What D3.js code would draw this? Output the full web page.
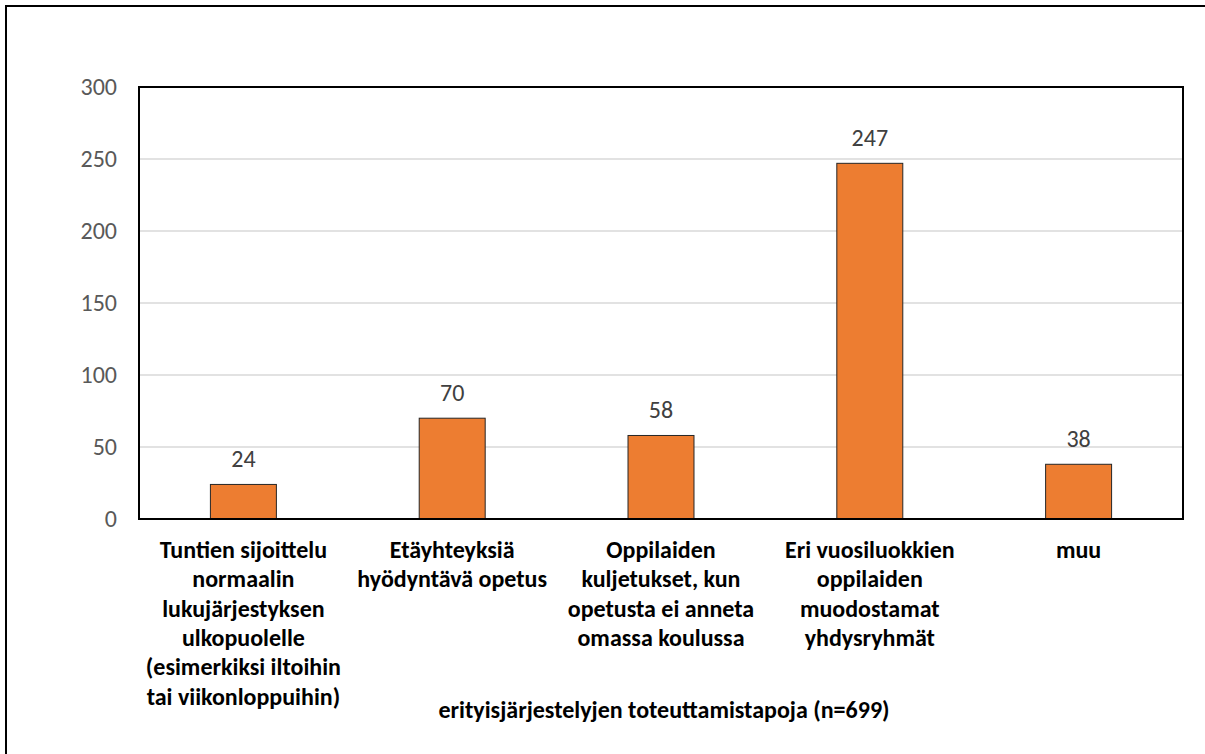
<!DOCTYPE html>
<html>
<head>
<meta charset="utf-8">
<script src="https://cdn.jsdelivr.net/npm/d3@7"></script>
<style>
  html, body { margin: 0; padding: 0; background: #fff; }
  svg { display: block; }
  text { font-family: Carlito, Lato, "Liberation Sans", sans-serif; }
</style>
</head>
<body>
<svg id="chart" width="1205" height="754"></svg>
<script>
const categories = [
  "Tuntien sijoittelu\nnormaalin\nlukujärjestyksen\nulkopuolelle\n(esimerkiksi iltoihin\ntai viikonloppuihin)",
  "Etäyhteyksiä\nhyödyntävä opetus",
  "Oppilaiden\nkuljetukset, kun\nopetusta ei anneta\nomassa koulussa",
  "Eri vuosiluokkien\noppilaiden\nmuodostamat\nyhdysryhmät",
  "muu"
];
const values = [24, 70, 58, 247, 38];
const yTicks = [0, 50, 100, 150, 200, 250, 300];
const axisTitle = "erityisjärjestelyjen toteuttamistapoja (n=699)";

const svg = d3.select("#chart");
const W = 1205, H = 754;
const plot = { left: 139, right: 1183, top: 87, bottom: 519 };

// outer frame (clipped at right/bottom like the reference)
svg.append("rect")
  .attr("x", 6).attr("y", 6)
  .attr("width", W + 10).attr("height", H + 10)
  .attr("fill", "#fff").attr("stroke", "#000").attr("stroke-width", 2);

const x = d3.scaleBand()
  .domain(d3.range(categories.length))
  .range([plot.left, plot.right])
  .paddingInner(0.684)
  .paddingOuter(0.342);

const y = d3.scaleLinear().domain([0, 300]).range([plot.bottom, plot.top]);

// gridlines
svg.append("g")
  .selectAll("line")
  .data(yTicks.filter(t => t > 0 && t < 300))
  .join("line")
  .attr("x1", plot.left).attr("x2", plot.right)
  .attr("y1", d => y(d)).attr("y2", d => y(d))
  .attr("stroke", "#d9d9d9").attr("stroke-width", 1.5);

// y axis labels
const yAxis = d3.axisLeft(y).tickValues(yTicks).tickSize(0).tickPadding(22);
const gy = svg.append("g").attr("transform", `translate(${plot.left},0)`).call(yAxis);
gy.select(".domain").remove();
gy.selectAll("text")
  .attr("fill", "#595959")
  .style("font-size", "24px")
  .style("font-family", "Carlito, Lato, sans-serif");

// bars
svg.append("g")
  .selectAll("rect")
  .data(values)
  .join("rect")
  .attr("x", (d, i) => x(i))
  .attr("y", d => y(d))
  .attr("width", x.bandwidth())
  .attr("height", d => y(0) - y(d))
  .attr("fill", "#ED7D31")
  .attr("stroke", "#262626")
  .attr("stroke-width", 1);

// value labels
svg.append("g")
  .selectAll("text")
  .data(values)
  .join("text")
  .attr("x", (d, i) => x(i) + x.bandwidth() / 2)
  .attr("y", d => y(d) - 17)
  .attr("text-anchor", "middle")
  .attr("fill", "#404040")
  .style("font-size", "24px")
  .text(d => d);

// plot border (left, top, right) and baseline
svg.append("path")
  .attr("d", `M${plot.left},${plot.bottom}V${plot.top}H${plot.right}V${plot.bottom}`)
  .attr("fill", "none").attr("stroke", "#000").attr("stroke-width", 2);
svg.append("line")
  .attr("x1", plot.left - 1).attr("x2", plot.right + 1)
  .attr("y1", y(0)).attr("y2", y(0))
  .attr("stroke", "#000").attr("stroke-width", 2);

// category labels
const catG = svg.append("g");
categories.forEach((c, i) => {
  const cx = x(i) + x.bandwidth() / 2;
  const t = catG.append("text")
    .attr("x", cx)
    .attr("y", 558)
    .attr("text-anchor", "middle")
    .attr("fill", "#000")
    .style("font-size", "24px")
    .style("font-weight", "bold");
  c.split("\n").forEach((line, j) => {
    t.append("tspan")
      .attr("x", cx)
      .attr("dy", j === 0 ? 0 : 29.3)
      .text(line);
  });
});

// axis title
svg.append("text")
  .attr("x", (plot.left + plot.right) / 2 + 3)
  .attr("y", 718)
  .attr("text-anchor", "middle")
  .attr("fill", "#000")
  .style("font-size", "24px")
  .style("font-weight", "bold")
  .text(axisTitle);
</script>
</body>
</html>
